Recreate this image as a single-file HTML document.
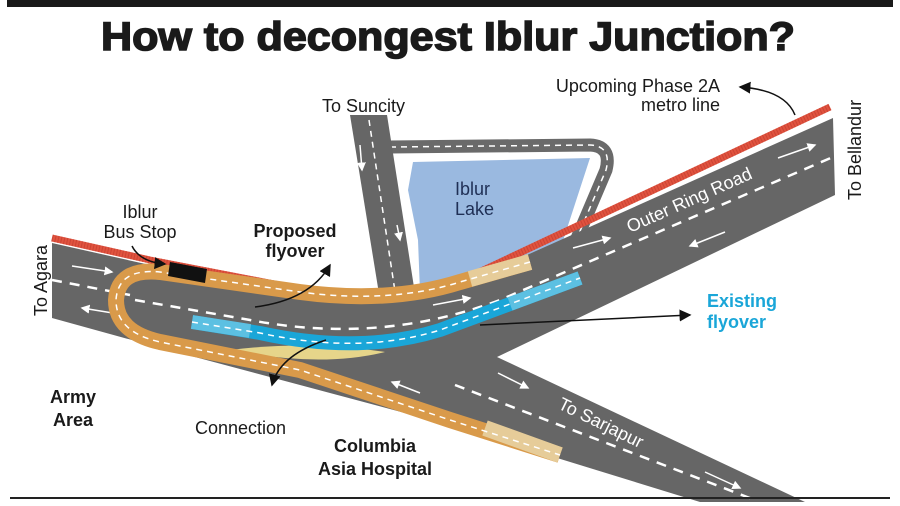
<!DOCTYPE html>
<html><head><meta charset="utf-8"><style>
html,body{margin:0;padding:0;background:#fff;}
svg{display:block;font-family:"Liberation Sans",sans-serif;}
</style></head><body>
<svg width="900" height="506" viewBox="0 0 900 506" xmlns="http://www.w3.org/2000/svg">
<defs>
<marker id="ah" markerWidth="8" markerHeight="8" refX="7" refY="4" orient="auto"><path d="M0,0 L8,4 L0,8 z" fill="#111"/></marker>
<marker id="wa" markerWidth="6" markerHeight="6" refX="5" refY="3" orient="auto"><path d="M0,0 L6,3 L0,6 z" fill="#fff"/></marker>
</defs>
<rect x="7" y="0" width="886" height="7" fill="#1a1a1a"/>
<text x="448" y="50" text-anchor="middle" font-size="40" font-weight="bold" fill="#1a1a1a" textLength="694" lengthAdjust="spacingAndGlyphs" stroke="#1a1a1a" stroke-width="1.5">How to decongest Iblur Junction?</text>

<!-- lake loop road -->
<path d="M390,147 L590,145 Q612,146 606,170 L572,250" fill="none" stroke="#6a6a6a" stroke-width="13"/>
<path d="M390,147 L590,145 Q612,146 606,170 L572,250" fill="none" stroke="#fff" stroke-width="1.5" stroke-dasharray="6,5"/>
<!-- lake -->
<path d="M413,162 L590,158 L560,250 L520,265 L420,292 L418,240 L408,190 Z" fill="#9ab9e0"/>
<!-- Suncity road -->
<path d="M350,115 L387,115 L416,300 L380,300 Z" fill="#666"/>
<path d="M369,120 L396,298" stroke="#fff" stroke-width="1.5" stroke-dasharray="6,5"/>

<!-- main asphalt -->
<path d="M52,243 L150,265 L300,293 Q390,306 460,285 L833,118 L835,195 L497,357 L805,502 L700,502 L450,425 L150,345 L52,318 Z" fill="#666"/>

<!-- metro red line -->
<path d="M52,238 L150,260 L300,289 Q390,302 460,281 L830,107" fill="none" stroke="#e0533f" stroke-width="7"/>
<path d="M52,238 L150,260 L300,289 Q390,302 460,281 L830,107" fill="none" stroke="#b8352a" stroke-width="7" stroke-dasharray="1,2" opacity="0.5"/>

<!-- center dashes -->
<path d="M52,280 L130,295" stroke="#fff" stroke-width="2.5" stroke-dasharray="10,8"/>
<path d="M135,300 L250,320 Q380,345 500,300 L833,157" fill="none" stroke="#fff" stroke-width="2.5" stroke-dasharray="10,8"/>
<path d="M455,385 L755,500" stroke="#fff" stroke-width="2.5" stroke-dasharray="10,8"/>
<!-- arrows -->
<g stroke="#fff" stroke-width="1.5" marker-end="url(#wa)">
<line x1="72" y1="266" x2="112" y2="272"/>
<line x1="125" y1="315" x2="82" y2="308"/>
<line x1="433" y1="305" x2="470" y2="298"/>
<line x1="573" y1="248" x2="610" y2="238"/>
<line x1="778" y1="158" x2="815" y2="145"/>
<line x1="725" y1="232" x2="690" y2="246"/>
<line x1="498" y1="373" x2="528" y2="388"/>
<line x1="705" y1="472" x2="740" y2="488"/>
<line x1="420" y1="393" x2="392" y2="382"/>
<line x1="360" y1="145" x2="362" y2="170"/>
<line x1="397" y1="225" x2="400" y2="240"/>
</g>

<!-- connection sliver -->
<path d="M230,350 Q310,340 385,352 Q320,368 230,350 Z" fill="#e6d58a"/>
<!-- proposed flyover -->
<path d="M530,262 L460,282 Q390,304 300,292 L160,272 Q118,268 116,300 Q116,332 160,342 L300,370 L450,420 L560,455" fill="none" stroke="#d99a4a" stroke-width="16"/>
<path d="M530,262 L470,279" stroke="#e6cc99" stroke-width="16"/>
<path d="M485,428 L560,455" stroke="#e6cc99" stroke-width="16"/>
<path d="M530,262 L460,282 Q390,304 300,292 L160,272 Q118,268 116,300 Q116,332 160,342 L300,370 L450,420 L560,455" fill="none" stroke="#fff" stroke-width="1.5" stroke-dasharray="6,5"/>
<!-- existing flyover -->
<path d="M192,322 L260,333 Q360,355 440,330 L580,278" fill="none" stroke="#1aa6d8" stroke-width="14"/>
<path d="M192,322 L250,331" stroke="#5cc0e2" stroke-width="14"/>
<path d="M510,304 L580,278" stroke="#5cc0e2" stroke-width="14"/>
<path d="M192,322 L260,333 Q360,355 440,330 L580,278" fill="none" stroke="#fff" stroke-width="1.5" stroke-dasharray="6,5"/>

<!-- bus stop -->
<path d="M170,262 L207,269 L205,283 L168,276 Z" fill="#111"/>

<!-- pointer arrows -->
<g fill="none" stroke="#111" stroke-width="1.5" marker-end="url(#ah)">
<path d="M132,246 Q140,262 165,264"/>
<path d="M255,307 Q310,300 330,265"/>
<path d="M326,340 Q280,355 272,385"/>
<path d="M480,325 L690,315"/>
<path d="M795,115 Q785,90 740,87"/>
</g>

<!-- labels -->
<g font-size="18" fill="#1a1a1a">
<text x="322" y="112">To Suncity</text>
<text x="720" y="92" text-anchor="end">Upcoming Phase 2A</text>
<text x="720" y="111" text-anchor="end">metro line</text>
<text x="140" y="218" text-anchor="middle">Iblur</text>
<text x="140" y="238" text-anchor="middle">Bus Stop</text>
<text x="195" y="434">Connection</text>
<text transform="translate(47,316) rotate(-90)">To Agara</text>
<text transform="translate(861,200) rotate(-90)">To Bellandur</text>
</g>
<g font-size="18" font-weight="bold" fill="#1a1a1a">
<text x="295" y="237" text-anchor="middle">Proposed</text>
<text x="295" y="257" text-anchor="middle">flyover</text>
<text x="73" y="403" text-anchor="middle">Army</text>
<text x="73" y="426" text-anchor="middle">Area</text>
<text x="375" y="452" text-anchor="middle">Columbia</text>
<text x="375" y="475" text-anchor="middle">Asia Hospital</text>
<text x="707" y="307" fill="#1aa6d8">Existing</text>
<text x="707" y="328" fill="#1aa6d8">flyover</text>
</g>
<g font-size="18" fill="#1f2f55">
<text x="455" y="195">Iblur</text>
<text x="455" y="215">Lake</text>
</g>
<text transform="translate(630,233) rotate(-24)" font-size="18" fill="#fff">Outer Ring Road</text>
<text transform="translate(557,408) rotate(26)" font-size="18" fill="#fff">To Sarjapur</text>

<rect x="10" y="497" width="880" height="2" fill="#222"/>
</svg>
</body></html>
